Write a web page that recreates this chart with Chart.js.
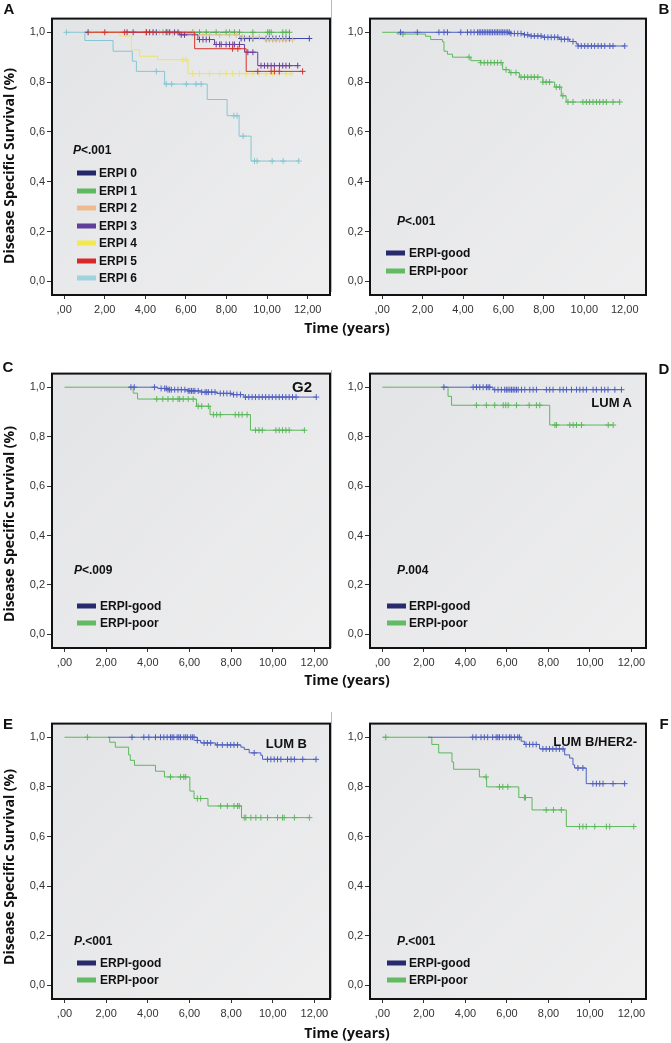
<!DOCTYPE html>
<html>
<head>
<meta charset="utf-8">
<script src="https://cdn.jsdelivr.net/npm/chart.js@4.4.1/dist/chart.umd.min.js"></script>
<style>
body { margin: 0; background: #fff; }
#fig { position: relative; width: 671px; height: 1043px; overflow: hidden; font-family: "Liberation Sans", Arial, sans-serif; color: #111; }
canvas { position: absolute; }
.t { position: absolute; white-space: nowrap; line-height: 1; transform: translateY(-50%); }
.c { transform: translate(-50%, -50%); }
.r { transform: translate(-100%, -50%); }
.letter { font-weight: bold; font-size: 15px; }
.ytitle { font-family: "Open Sans", sans-serif; font-weight: bold; font-size: 14px; transform: translate(-50%, -50%) rotate(-90deg); }
.xtitle { font-family: "Open Sans", sans-serif; font-weight: bold; font-size: 14px; }
.pv, .leg { font-weight: bold; font-size: 12px; }
.sub { font-weight: bold; font-size: 13px; }
.sw { position: absolute; width: 19px; height: 5px; transform: translateY(-50%); }
.div { position: absolute; width: 1px; background: #b8b8b8; }
</style>
</head>
<body>
<div id="fig"></div>
<script>
// axis ticks
const xTicks = [0, 2, 4, 6, 8, 10, 12];
const yTicks = [0, 0.2, 0.4, 0.6, 0.8, 1.0];

// panel A: ERPI 0..6
const aGroups = ["ERPI 0", "ERPI 1", "ERPI 2", "ERPI 3", "ERPI 4", "ERPI 5", "ERPI 6"];
const aStart = [1.0, 1.4, 1.5, 2.9, 1.4, 1.1, 0.1];
const aTimes = [
  [8.64],
  [],
  [5.2, 6.5, 8.64, 9.95],
  [5.69, 6.59, 7.41, 8.89, 9.54],
  [2.74, 3.31, 3.72, 4.6, 6.1],
  [6.43, 8.97],
  [1.02, 2.41, 3.36, 3.56, 4.95, 7.05, 8.03, 8.62, 9.21]
];
const aSurv = [
  [0.975],
  [],
  [0.995, 0.99, 0.98, 0.97],
  [0.99, 0.971, 0.951, 0.92, 0.866],
  [0.985, 0.93, 0.904, 0.89, 0.834],
  [0.934, 0.843],
  [0.967, 0.924, 0.884, 0.843, 0.792, 0.73, 0.665, 0.583, 0.483]
];
const aCens = [
  [1.18, 4.05, 4.54, 8.72, 8.89, 9.13, 9.3, 9.95, 10.11, 10.28, 10.44, 10.61, 10.77, 10.93, 11.1, 12.08],
  [4.87, 5.11, 6.34, 6.67, 7.0, 7.49, 7.98, 8.15, 8.39, 8.64, 9.3, 10.03, 10.11, 10.2, 10.77, 10.93, 11.1],
  [4.38, 4.7, 5.03, 5.36, 5.69, 6.02, 6.34, 6.84, 7.16, 7.66, 8.15, 8.48, 8.8, 9.3, 9.62, 9.95, 10.11, 10.28, 10.44, 10.61, 10.77, 10.93, 11.26],
  [3.1, 3.4, 4.21, 4.38, 5.03, 5.2, 5.44, 5.61, 5.77, 5.93, 6.67, 6.84, 7.0, 7.16, 7.49, 7.66, 7.74, 7.98, 8.15, 8.31, 8.39, 8.64, 9.05, 9.3, 9.7, 9.87, 10.03, 10.2, 10.36, 10.61, 10.77, 10.93, 11.1, 11.51],
  [1.34, 5.85, 6.0, 6.34, 6.67, 7.16, 7.66, 7.98, 8.31, 8.64, 8.97, 9.3, 9.62, 9.95, 10.28, 10.61, 10.93, 11.18],
  [2.0, 2.98, 4.05, 8.3, 8.56, 9.54, 10.2, 10.36, 10.6, 11.75],
  [0.11, 4.54, 5.03, 5.3, 6.02, 6.5, 6.75, 8.36, 8.52, 8.82, 9.38, 9.51, 10.25, 10.79, 11.56]
];

// panels B-F: ERPI-good / ERPI-poor
const groups = ["ERPI-good", "ERPI-poor"];

const bStart = [0.8, 0];
const bTimes = [
  [6.37, 7.0, 7.28, 7.95, 8.77, 9.27, 9.6, 9.69],
  [0.75, 2.15, 2.4, 2.98, 3.06, 3.23, 3.48, 4.39, 4.88, 5.96, 6.29, 6.79, 7.95, 8.53, 8.86, 9.1]
];
const bSurv = [
  [0.995, 0.99, 0.985, 0.98, 0.972, 0.963, 0.953, 0.945],
  [0.993, 0.984, 0.971, 0.962, 0.924, 0.912, 0.9, 0.886, 0.878, 0.85, 0.838, 0.82, 0.8, 0.78, 0.745, 0.72]
];
const bCens = [
  [0.91, 1.74, 2.81, 3.06, 3.23, 3.89, 4.22, 4.39, 4.55, 4.72, 4.8, 4.88, 4.97, 5.05, 5.13, 5.22, 5.3, 5.38, 5.46, 5.55, 5.63, 5.71, 5.79, 5.88, 5.96, 6.04, 6.13, 6.21, 6.29, 6.37, 6.54, 6.71, 6.87, 7.04, 7.2, 7.37, 7.53, 7.7, 7.86, 8.03, 8.2, 8.36, 8.53, 8.69, 8.86, 9.02, 9.19, 9.44, 9.69, 9.85, 10.02, 10.18, 10.35, 10.51, 10.68, 10.84, 11.01, 11.26, 11.42, 12.0],
  [1.03, 4.3, 4.88, 5.05, 5.22, 5.38, 5.55, 5.71, 5.88, 6.13, 6.37, 6.62, 6.87, 7.04, 7.2, 7.37, 7.53, 7.7, 7.95, 8.11, 8.28, 8.61, 8.78, 8.94, 9.19, 9.44, 9.93, 10.1, 10.26, 10.43, 10.6, 10.76, 10.93, 11.09, 11.42, 11.75]
];

const cStart = [3.1, 0];
const cTimes = [
  [4.48, 4.97, 5.94, 6.59, 7.31, 8.04, 8.61],
  [3.3, 3.51, 6.34, 6.99, 8.93]
];
const cSurv = [
  [0.995, 0.99, 0.985, 0.98, 0.975, 0.97, 0.96],
  [0.976, 0.952, 0.923, 0.889, 0.826]
];
const cCens = [
  [3.19, 3.35, 4.32, 4.64, 4.81, 4.89, 4.97, 5.05, 5.13, 5.29, 5.45, 5.61, 5.78, 5.94, 6.02, 6.1, 6.18, 6.26, 6.42, 6.59, 6.75, 6.83, 6.91, 7.07, 7.23, 7.48, 7.64, 7.8, 7.96, 8.12, 8.28, 8.45, 8.69, 8.85, 9.01, 9.17, 9.34, 9.5, 9.66, 9.82, 9.98, 10.15, 10.31, 10.47, 10.63, 10.79, 10.95, 11.12, 12.09],
  [4.43, 4.72, 4.97, 5.21, 5.45, 5.53, 5.7, 5.94, 6.18, 6.42, 6.59, 6.91, 7.15, 7.31, 7.48, 8.2, 8.37, 8.53, 8.77, 9.17, 9.34, 9.5, 10.15, 10.31, 10.47, 10.63, 10.79, 11.52]
];

const dStart = [2.9, 0];
const dTimes = [
  [5.33],
  [3.16, 3.33, 8.06]
];
const dSurv = [
  [0.99],
  [0.963, 0.927, 0.847]
];
const dCens = [
  [2.96, 4.37, 4.53, 4.69, 4.85, 5.01, 5.09, 5.17, 5.41, 5.57, 5.73, 5.89, 5.97, 6.05, 6.14, 6.22, 6.3, 6.38, 6.46, 6.54, 6.7, 6.86, 7.1, 7.26, 7.42, 7.9, 8.06, 8.22, 8.55, 8.71, 8.87, 9.11, 9.35, 9.51, 9.67, 9.83, 10.15, 10.31, 10.55, 10.71, 10.87, 11.2, 11.52],
  [4.53, 5.01, 5.41, 5.82, 5.94, 6.06, 6.46, 7.07, 7.42, 7.58, 8.31, 8.39, 9.03, 9.19, 9.35, 9.59, 10.88, 11.12]
];

const eStart = [2.1, 0];
const eTimes = [
  [6.38, 6.54, 7.26, 8.47, 8.63, 8.87, 9.43, 9.51],
  [2.17, 2.44, 3.08, 3.16, 3.36, 4.37, 4.8, 6.02, 6.22, 6.89, 8.5]
];
const eSurv = [
  [0.987, 0.977, 0.969, 0.96, 0.951, 0.937, 0.927, 0.911],
  [0.98, 0.96, 0.929, 0.907, 0.887, 0.863, 0.84, 0.783, 0.753, 0.723, 0.676]
];
const eCens = [
  [3.24, 3.81, 4.05, 4.37, 4.61, 4.77, 4.93, 5.09, 5.17, 5.25, 5.41, 5.49, 5.57, 5.73, 5.82, 5.9, 6.06, 6.14, 6.22, 6.38, 6.7, 6.86, 7.02, 7.34, 7.58, 7.82, 7.98, 8.14, 8.31, 9.11, 9.75, 9.91, 10.07, 10.23, 10.39, 10.71, 10.88, 11.04, 11.44, 12.08],
  [1.1, 5.09, 5.57, 5.73, 5.82, 6.38, 6.54, 7.5, 7.82, 8.14, 8.31, 8.39, 8.63, 8.71, 8.95, 9.19, 9.43, 9.75, 10.23, 10.47, 10.55, 11.04, 11.76]
];

const fStart = [2.2, 0];
const fTimes = [
  [6.68, 6.84, 7.57, 8.78, 9.02, 9.18, 9.26, 9.82],
  [2.38, 2.71, 3.35, 3.43, 4.67, 5.02, 6.57, 7.21, 8.86]
];
const fSurv = [
  [0.984, 0.971, 0.953, 0.929, 0.916, 0.889, 0.876, 0.813],
  [0.971, 0.937, 0.9, 0.871, 0.84, 0.8, 0.757, 0.707, 0.64]
];
const fCens = [
  [4.35, 4.51, 4.75, 4.91, 5.07, 5.31, 5.48, 5.56, 5.64, 5.8, 5.96, 6.12, 6.2, 6.36, 6.52, 6.6, 6.92, 7.09, 7.25, 7.41, 7.73, 7.89, 8.05, 8.21, 8.37, 8.53, 8.7, 9.42, 9.66, 10.14, 10.31, 10.47, 10.63, 11.11, 11.67],
  [0.16, 4.99, 5.64, 5.8, 6.04, 6.84, 6.89, 7.89, 8.24, 8.62, 9.5, 9.66, 9.82, 10.23, 10.79, 10.95, 12.11]
];

const pValues = ["<.001", "<.001", "<.009", ".004", ".<001", ".<001"];
const subsets = ["", "", "G2", "LUM A", "LUM B", "LUM B/HER2-"];

// colours
const aLine = ["#3d47a8", "#56b456", "#d9c08e", "#6b3fa0", "#efe55a", "#d7312c", "#86c6d2"];
const aSwatch = ["#24276a", "#5fb95f", "#efbb8d", "#5f3f9a", "#f2ea4a", "#d8282a", "#9fd3e0"];
const gpLine = ["#4f5fc0", "#5cb85c"];
const gpSwatch = ["#272a6c", "#62ba62"];

const fig = document.getElementById("fig");

function survAt(times, surv, t) {
  let s = 1;
  times.forEach((ti, i) => { if (ti <= t) s = surv[i]; });
  return s;
}

function kmDatasets(start, times, surv, cens, color) {
  const end = Math.max(...cens, ...times);
  const line = [{ x: start, y: 1 }];
  times.forEach((t, i) => line.push({ x: t, y: surv[i] }));
  line.push({ x: end, y: survAt(times, surv, end) });
  return [
    { data: line, showLine: true, stepped: true, borderColor: color, borderWidth: 1, pointRadius: 0 },
    { data: cens.map(t => ({ x: t, y: survAt(times, surv, t) })), showLine: false,
      pointStyle: "cross", pointRadius: 3, borderColor: color, borderWidth: 1 }
  ];
}

const frame = {
  id: "frame",
  beforeDatasetsDraw(chart) {
    const { ctx, chartArea: a } = chart;
    ctx.save();
    const g = ctx.createLinearGradient(a.left, a.top, a.right, a.bottom);
    g.addColorStop(0, "#e3e4e6");
    g.addColorStop(1, "#eeeeef");
    ctx.fillStyle = g;
    ctx.fillRect(a.left, a.top, a.width, a.height);
    ctx.restore();
  },
  afterDraw(chart) {
    const { ctx, chartArea: a } = chart;
    ctx.save();
    ctx.strokeStyle = "#111";
    ctx.lineWidth = 2;
    ctx.strokeRect(a.left, a.top, a.width, a.height);
    ctx.restore();
  }
};

const tickFont = { family: "'Liberation Sans', Arial, sans-serif", size: 11 };

function panel(left, top, width, height, yw, xmax, datasets) {
  const cv = document.createElement("canvas");
  cv.width = width; cv.height = height;
  cv.style.left = left + "px"; cv.style.top = top + "px";
  cv.style.width = width + "px"; cv.style.height = height + "px";
  fig.appendChild(cv);
  new Chart(cv, {
    type: "scatter",
    data: { datasets },
    options: {
      responsive: false,
      animation: false,
      events: [],
      layout: { padding: { top: 7, right: 5, left: 0, bottom: 0 } },
      plugins: { legend: { display: false }, tooltip: { enabled: false } },
      scales: {
        x: {
          type: "linear", min: -0.6, max: xmax,
          afterBuildTicks: s => { s.ticks = xTicks.map(v => ({ value: v })); },
          afterFit: s => { s.height = 25; },
          ticks: { font: tickFont, color: "#333", padding: 4, maxRotation: 0,
                   callback: v => v === 0 ? ",00" : v.toFixed(2).replace(".", ",") },
          grid: { drawOnChartArea: false, drawTicks: true, tickLength: 4, color: "#333" },
          border: { display: false }
        },
        y: {
          min: -0.055, max: 1.055,
          afterBuildTicks: s => { s.ticks = yTicks.map(v => ({ value: v })); },
          afterFit: s => { s.width = yw; },
          ticks: { font: tickFont, color: "#333", padding: 2,
                   callback: v => v.toFixed(1).replace(".", ",") },
          grid: { drawOnChartArea: false, drawTicks: true, tickLength: 5, color: "#333" },
          border: { display: false }
        }
      }
    },
    plugins: [frame]
  });
}

function text(html, x, y, cls) {
  const d = document.createElement("div");
  d.className = "t " + cls;
  d.innerHTML = html;
  d.style.left = x + "px"; d.style.top = y + "px";
  fig.appendChild(d);
}

function legend(labels, colors, swx, tx, rows) {
  labels.forEach((lab, i) => {
    const s = document.createElement("div");
    s.className = "sw";
    s.style.left = swx + "px"; s.style.top = rows[i] + "px";
    s.style.background = colors[i];
    fig.appendChild(s);
    text(lab, tx, rows[i], "leg");
  });
}

// dividers
[[0, 292], [370, 648], [712, 998]].forEach(([y0, y1]) => {
  const d = document.createElement("div");
  d.className = "div";
  d.style.left = "331px"; d.style.top = y0 + "px"; d.style.height = (y1 - y0) + "px";
  fig.appendChild(d);
});

// panel A (ERPI 6 drawn on top)
const aSets = [];
for (let i = aGroups.length - 1; i >= 0; i--) {
  aSets.push(...kmDatasets(aStart[i], aTimes[i], aSurv[i], aCens[i], aLine[i]));
}
panel(14, 10, 321, 310, 38, 13.1, aSets);

const twoGroup = (st, tm, sv, cs) => [
  ...kmDatasets(st[0], tm[0], sv[0], cs[0], gpLine[0]),
  ...kmDatasets(st[1], tm[1], sv[1], cs[1], gpLine[1])
];
panel(331, 10, 320, 310, 39, 13.05, twoGroup(bStart, bTimes, bSurv, bCens));
panel(14, 365, 321, 308, 38, 12.75, twoGroup(cStart, cTimes, cSurv, cCens));
panel(331, 365, 320, 308, 39, 12.7, twoGroup(dStart, dTimes, dSurv, dCens));
panel(14, 715, 321, 309, 38, 12.75, twoGroup(eStart, eTimes, eSurv, eCens));
panel(331, 715, 320, 309, 39, 12.7, twoGroup(fStart, fTimes, fSurv, fCens));

// letters
[["A", 9, 8], ["B", 664, 8], ["C", 8, 366], ["D", 664, 368], ["E", 8, 723], ["F", 664, 723]]
  .forEach(([l, x, y]) => text(l, x, y, "letter c"));

// axis titles
[166, 524, 867].forEach(y => text("Disease Specific Survival (%)", 9, y, "ytitle"));
[328, 680, 1033].forEach(y => text("Time (years)", 347, y, "xtitle c"));

// p-values
const pPos = [[73, 150], [397, 221], [74, 570], [397, 570], [74, 941], [397, 941]];
pValues.forEach((p, i) => text("<i>P</i>" + p.replace("<", "&lt;"), pPos[i][0], pPos[i][1], "pv"));

// subset labels
const subPos = [null, null, [312, 386, 15], [632, 402, 13], [307, 743, 13], [637, 741, 13]];
subsets.forEach((s, i) => {
  if (!s) return;
  text(s, subPos[i][0], subPos[i][1], "sub r");
  fig.lastChild.style.fontSize = subPos[i][2] + "px";
});

// legends
legend(aGroups, aSwatch, 77, 99, [173, 191, 208, 226, 243, 261, 278]);
legend(groups, gpSwatch, 386, 409, [253, 271]);
legend(groups, gpSwatch, 77, 100, [606, 623]);
legend(groups, gpSwatch, 387, 409, [606, 623]);
legend(groups, gpSwatch, 77, 100, [963, 980]);
legend(groups, gpSwatch, 387, 409, [963, 980]);
</script>
</body>
</html>
